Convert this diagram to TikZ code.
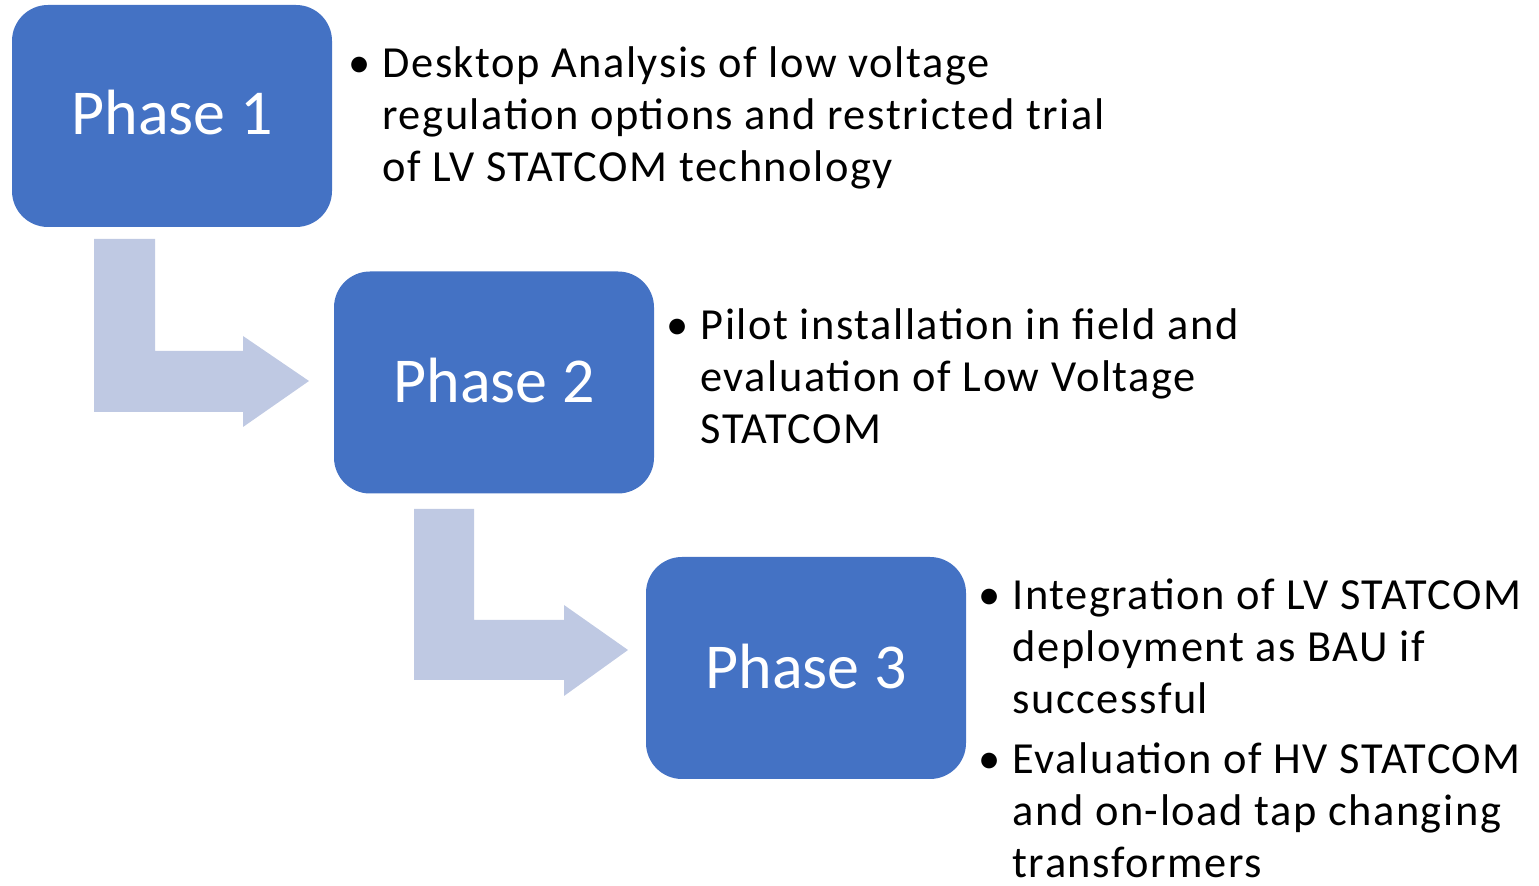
\documentclass[tikz,border=0pt]{standalone}
\usepackage{fontspec}
\setmainfont{Carlito}
\newfontfamily\bodyfont{Carlito}[LetterSpace=3.5]
\definecolor{phaseblue}{RGB}{68,114,196}
\definecolor{arrowblue}{RGB}{191,201,227}
\tikzset{
  phasebox/.style={fill=phaseblue, rounded corners=18pt, minimum width=160pt,
    minimum height=111pt, inner sep=0pt},
  phaselabel/.style={text=white, inner sep=0pt, font=\fontsize{32}{38}\selectfont},
  bentarrow/.style={fill=arrowblue, draw=none},
  bullettext/.style={anchor=base west, inner sep=0pt,
    font=\bodyfont\fontsize{22.2}{26}\selectfont}
}
\newcommand{\bulletlist}[1]{\begin{tabular}[t]{@{}l@{\hspace{6pt}}l@{}}#1\end{tabular}}
\begin{document}
\begin{tikzpicture}[x=0.5pt,y=-0.5pt]
\useasboundingbox (0,0) rectangle (1539,886);

% phase boxes with their titles
\node[phasebox] (p1) at (172,116) {};
\node[phasebox] (p2) at (494,382.5) {};
\node[phasebox] (p3) at (806,668) {};
\node[phaselabel] (l1) at ([yshift=1.5pt]p1.center) {Phase 1};
\node[phaselabel] (l2) at ([yshift=1.2pt]p2.center) {Phase 2};
\node[phaselabel] (l3) at ([yshift=0.8pt]p3.center) {Phase 3};

% bent arrows leading from one phase to the next
\coordinate (a1) at (94,239);
\fill[bentarrow] (a1) -- ++(61,0) -- ++(0,112) -- ++(88,0) -- ++(0,-15)
  -- ++(66,45) -- ++(-66,46) -- ++(0,-15) -- ++(-149,0) -- cycle;
\coordinate (a2) at (414,509);
\fill[bentarrow] (a2) -- ++(60,0) -- ++(0,111) -- ++(90,0) -- ++(0,-15)
  -- ++(64,45) -- ++(-64,46) -- ++(0,-16) -- ++(-150,0) -- cycle;

% descriptions
\node[bullettext] (t1) at (348,78) {\bulletlist{%
  \textbullet & Desktop Analysis of low voltage\\
  & regulation options and restricted trial\\
  & of LV STATCOM technology}};
\node[bullettext] (t2) at (666,340) {\bulletlist{%
  \textbullet & Pilot installation in field and\\
  & evaluation of Low Voltage\\
  & STATCOM}};
\node[bullettext] (t3) at (978,610) {\bulletlist{%
  \textbullet & Integration of LV STATCOM\\
  & deployment as BAU if\\
  & successful\\[4pt]
  \textbullet & Evaluation of HV STATCOM\\
  & and on-load tap changing\\
  & transformers}};
\end{tikzpicture}
\end{document}
